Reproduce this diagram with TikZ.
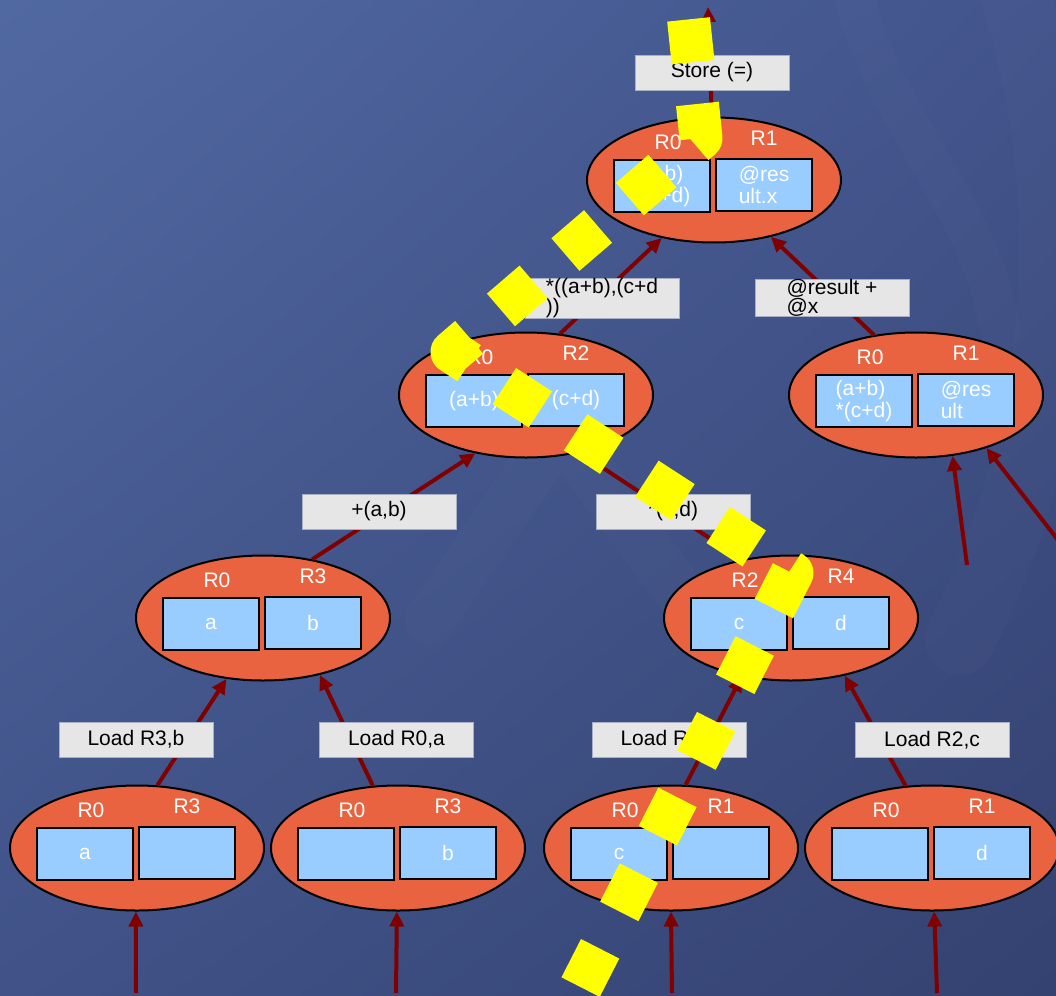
\documentclass[tikz,border=0pt]{standalone}
\usepackage{fontspec}
\setmainfont{Liberation Sans}
\usetikzlibrary{shapes.geometric,arrows.meta,calc,shadings}

\definecolor{bgUL}{RGB}{81,105,161}
\definecolor{bgUR}{RGB}{66,84,140}
\definecolor{bgLL}{RGB}{64,82,136}
\definecolor{bgLR}{RGB}{52,66,112}
\definecolor{regred}{RGB}{234,99,64}
\definecolor{regblue}{RGB}{153,204,255}
\definecolor{lblgrey}{RGB}{230,230,230}
\definecolor{lbledge}{RGB}{170,176,196}
\definecolor{wire}{RGB}{128,0,0}
\definecolor{trail}{RGB}{255,255,0}

\tikzset{
  regell/.style={ellipse, draw=black, line width=2pt, fill=regred,
    minimum width=254pt, minimum height=125pt, inner sep=0pt},
  regbox/.style={rectangle, draw=black, line width=2pt, fill=regblue,
    minimum width=96pt, minimum height=52pt, inner sep=0pt, text=white,
    font=\fontsize{21}{22}\selectfont, align=left},
  reglbl/.style={text=white, font=\fontsize{21}{22}\selectfont, inner sep=0pt},
  opbox/.style={rectangle, draw=lbledge, line width=0.8pt, fill=lblgrey,
    minimum width=154pt, minimum height=35pt, inner sep=0pt,
    font=\fontsize{21}{16.5}\selectfont, align=left},
  wirearrow/.style={draw=wire, line width=4pt, -{Triangle[length=15pt,width=14pt]}},
  trailpath/.style={draw=trail, line width=43pt, dash pattern=on 43pt off 42pt,
    dash phase=70.5pt, line join=round},
  swirl/.style={draw=white, draw opacity=0.015, line cap=round},
}

% register-state node: name, x, y, left register, right register, left value, right value
\newcommand\regnode[7]{%
  \node[regell] (#1) at (#2,#3) {};
  \node[regbox] (#1-l) at ($(#1)+(-52,6)$) {#6};
  \node[regbox] (#1-r) at ($(#1)+(50,5)$) {#7};
  \node[reglbl] (#1-ln) at ($(#1)+(-46,-38)$) {#4};
  \node[reglbl] (#1-rn) at ($(#1)+(50,-42)$) {#5};
}

\begin{document}
\begin{tikzpicture}[x=1pt, y=-1pt]
  \useasboundingbox (0,0) rectangle (1056,995);
  \clip (0,0) rectangle (1056,995);
  \shade[upper left=bgUL, upper right=bgUR, lower left=bgLL, lower right=bgLR]
    (0,0) rectangle (1056,995);

  % faint backdrop flourishes
  \draw[swirl, line width=70pt] (1010,-20) .. controls (1080,180) and (1070,420) .. (960,640);
  \draw[swirl, line width=40pt] (850,-20) .. controls (880,120) and (980,200) .. (1000,330);
  \draw[swirl, line width=50pt] (430,620) -- (560,430) -- (700,620);

  % register states
  \regnode{top}{714}{180}{R0}{R1}{(a+b)\\{}*(c+d)}{@res\\ult.x}
  \regnode{midL}{526}{395}{R0}{R2}{(a+b)}{(c+d)}
  \regnode{midR}{916}{395}{R0}{R1}{(a+b)\\{}*(c+d)}{@res\\ult}
  \regnode{lvlL}{263}{618}{R0}{R3}{a}{b}
  \regnode{lvlR}{791}{618}{R2}{R4}{c}{d}
  \regnode{leafA}{137}{848}{R0}{R3}{a}{}
  \regnode{leafB}{398}{848}{R0}{R3}{}{b}
  \regnode{leafC}{671}{848}{R0}{R1}{c}{}
  \regnode{leafD}{932}{848}{R0}{R1}{}{d}

  % free ends of the incoming and outgoing arrows
  \coordinate (topend) at (708,7);
  \coordinate (inA) at (136,993);
  \coordinate (inB) at (396,993);
  \coordinate (inC) at (672,993);
  \coordinate (inD) at (937,993);
  \coordinate (inR1) at (967,565);
  \coordinate (inR2) at (1058,540);

  % data flow
  \draw[wirearrow] (leafA.72.4) -- (lvlL.-121);
  \draw[wirearrow] (leafB.112.4) -- (lvlL.-45.5);
  \draw[wirearrow] (leafC.77.5) -- (lvlR.-130);
  \draw[wirearrow] (leafD.113.2) -- (lvlR.-47.5);
  \draw[wirearrow] (lvlL.50.8) -- (midL.-131.5);
  \draw[wirearrow] (lvlR.130.8) -- (midL.-47.6);
  \draw[wirearrow] (midL.61.3) -- (top.-132.4);
  \draw[wirearrow] (midR.125.8) -- (top.-45.5);
  \draw[wirearrow] (top.92) -- (topend);
  \draw[wirearrow] (inA) -- (leafA.-91);
  \draw[wirearrow] (inB) -- (leafB.-91);
  \draw[wirearrow] (inC) -- (leafC.-90);
  \draw[wirearrow] (inD) -- (leafD.-88);
  \draw[wirearrow] (inR1) -- (midR.-59);
  \draw[wirearrow] (inR2) -- (midR.-37.6);

  % operations
  \node[opbox] (opStore) at (712,72.5) {Store (=)};
  \node[opbox] (opMul) at (602,298) {*((a+b),(c+d\\))};
  \node[opbox] (opAdd2) at (832,298) {@result +\\@x};
  \node[opbox] (opAdd) at (379,511.5) {+(a,b)};
  \node[opbox] (opMulCD) at (673,511.5) {*(c,d)};
  \node[opbox] (opLdB) at (136,739.5) {Load R3,b};
  \node[opbox] (opLdA) at (396.5,739.5) {Load R0,a};
  \node[opbox] (opLdD) at (669,739.5) {Load R4,d};
  \node[opbox] (opLdC) at (932,740) {Load R2,c};

  % highlighted evaluation path
  \draw[trailpath] (574,1000) -- (792,573) -- (452,352) -- (701,138) -- (686,-5);
\end{tikzpicture}
\end{document}
